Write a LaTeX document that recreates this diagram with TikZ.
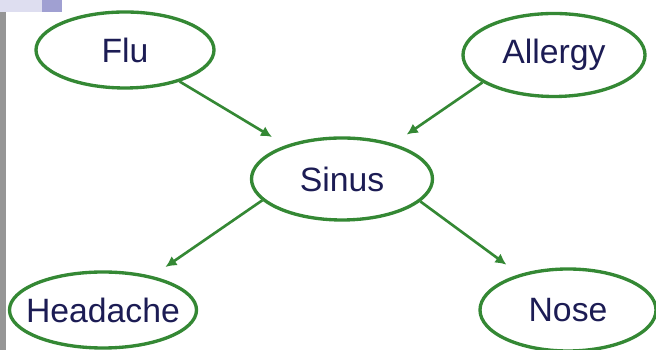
\documentclass[tikz,border=0pt]{standalone}
\usepackage{fontspec}
\setmainfont{Liberation Sans}
\usetikzlibrary{arrows.meta,shapes.geometric}
\definecolor{netgreen}{RGB}{52,136,52}
\definecolor{netnavy}{RGB}{28,28,84}
\definecolor{slidegray}{RGB}{150,150,150}
\definecolor{slidelav}{RGB}{222,222,240}
\definecolor{slideblue}{RGB}{160,160,210}

\begin{document}
\begin{tikzpicture}[
	var/.style={ellipse,draw=netgreen,line width=0.95pt,inner sep=0pt,text=netnavy,font=\fontsize{9.6}{11}\selectfont},
	link/.style={draw=netgreen,line width=0.75pt,-{Latex[length=1.1mm,width=1.1mm]},shorten >=1.6mm}
	]
	\useasboundingbox (0,0) rectangle (6.56,3.5);
	\fill[slidegray] (0,0) rectangle (0.06,3.38);
	\fill[slidelav] (0,3.38) rectangle (0.42,3.5);
	\fill[slideblue] (0.42,3.38) rectangle (0.62,3.5);
	\node[var,minimum width=1.78cm,minimum height=0.76cm] (flu) at (1.25,3.0) {Flu};
	\node[var,minimum width=1.82cm,minimum height=0.83cm] (allergy) at (5.54,2.95) {Allergy};
	\node[var,minimum width=1.81cm,minimum height=0.82cm] (sinus) at (3.42,1.71) {Sinus};
	\node[var,inner xsep=-1.2mm,minimum width=1.87cm,minimum height=0.76cm] (headache) at (1.03,0.40) {Headache};
	\node[var,minimum width=1.76cm,minimum height=0.82cm] (nose) at (5.68,0.40) {Nose};
	\draw[link] (flu.-30) -- (sinus);
	\draw[link] (allergy.201) -- (sinus);
	\draw[link] (sinus.195) -- (headache);
	\draw[link] (sinus.-16) -- (nose);
\end{tikzpicture}
\end{document}
